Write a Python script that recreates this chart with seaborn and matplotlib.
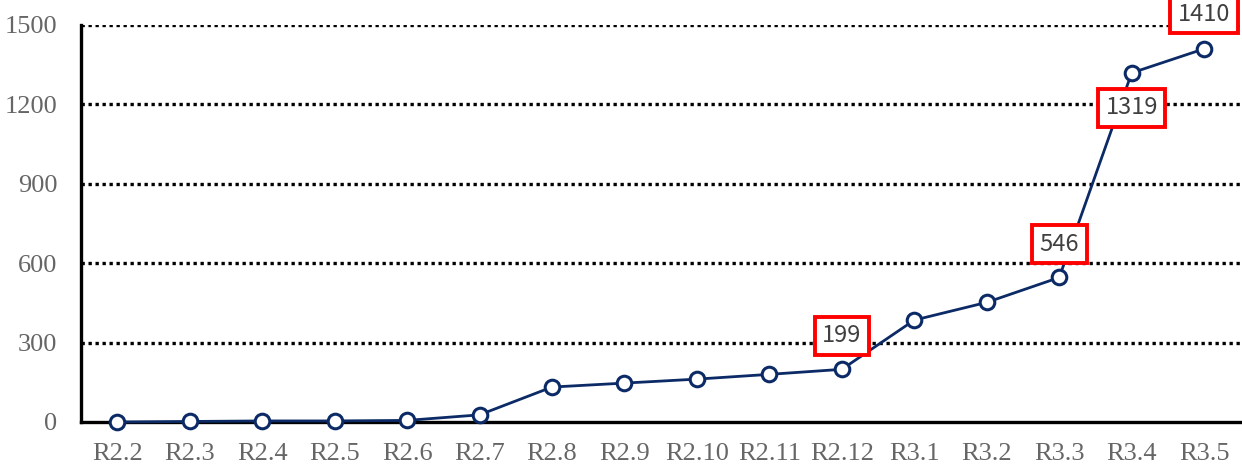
import matplotlib
matplotlib.use("Agg")
import matplotlib.pyplot as plt
import pandas as pd
import seaborn as sns

months = ["R2.2", "R2.3", "R2.4", "R2.5", "R2.6", "R2.7", "R2.8", "R2.9",
          "R2.10", "R2.11", "R2.12", "R3.1", "R3.2", "R3.3", "R3.4", "R3.5"]
counts = [0, 2, 4, 4, 6, 27, 132, 147, 162, 180, 199, 385, 452, 546, 1319, 1410]
y_ticks = [0, 300, 600, 900, 1200, 1500]

# labelled points: (month, offset in points; negative = below)
callouts = {"R2.12": 24, "R3.3": 24, "R3.4": -25, "R3.5": 25}

df = pd.DataFrame({"month": months, "count": counts})

sns.set_theme(style="white")
plt.rcParams["font.family"] = ["Liberation Serif", "DejaVu Serif"]

fig = plt.figure(figsize=(12.42, 4.68), dpi=100)
ax = fig.add_axes([0.0652, 0.0983, 0.9335, 0.8483])

navy = "#0b2a66"
sns.lineplot(data=df, x="month", y="count", sort=False, ax=ax, color=navy,
             linewidth=2.0, marker="o", markersize=10.5, markerfacecolor="white",
             markeredgecolor=navy, markeredgewidth=2.2, zorder=3, clip_on=False)

ax.set_xlim(-0.5, len(months) - 0.5)
ax.set_ylim(0, 1500)
ax.set_yticks(y_ticks)
ax.set_yticklabels([str(v) for v in y_ticks])
ax.set_xlabel("")
ax.set_ylabel("")
ax.tick_params(axis="both", length=0, labelsize=19, labelcolor="#666666")
ax.tick_params(axis="y", pad=17)
ax.tick_params(axis="x", pad=15)

for v in y_ticks[1:]:
    ax.axhline(v, color="black", linestyle=(0, (1, 1.1)), linewidth=2.4, zorder=1)

for side in ["top", "right"]:
    ax.spines[side].set_visible(False)
for side in ["left", "bottom"]:
    ax.spines[side].set_color("black")
    ax.spines[side].set_linewidth(2.4)

for m, off in callouts.items():
    i = months.index(m)
    ax.annotate(str(counts[i]), xy=(i, counts[i]), xytext=(0, off),
                textcoords="offset points", ha="center", va="center",
                fontsize=17, color="#404040",
                family=["Noto Sans CJK JP", "DejaVu Sans"],
                bbox=dict(boxstyle="square,pad=0.32", facecolor="white",
                          edgecolor="#ff0000", linewidth=2.8),
                zorder=5, annotation_clip=False)

fig.savefig("out.png", dpi=100)
